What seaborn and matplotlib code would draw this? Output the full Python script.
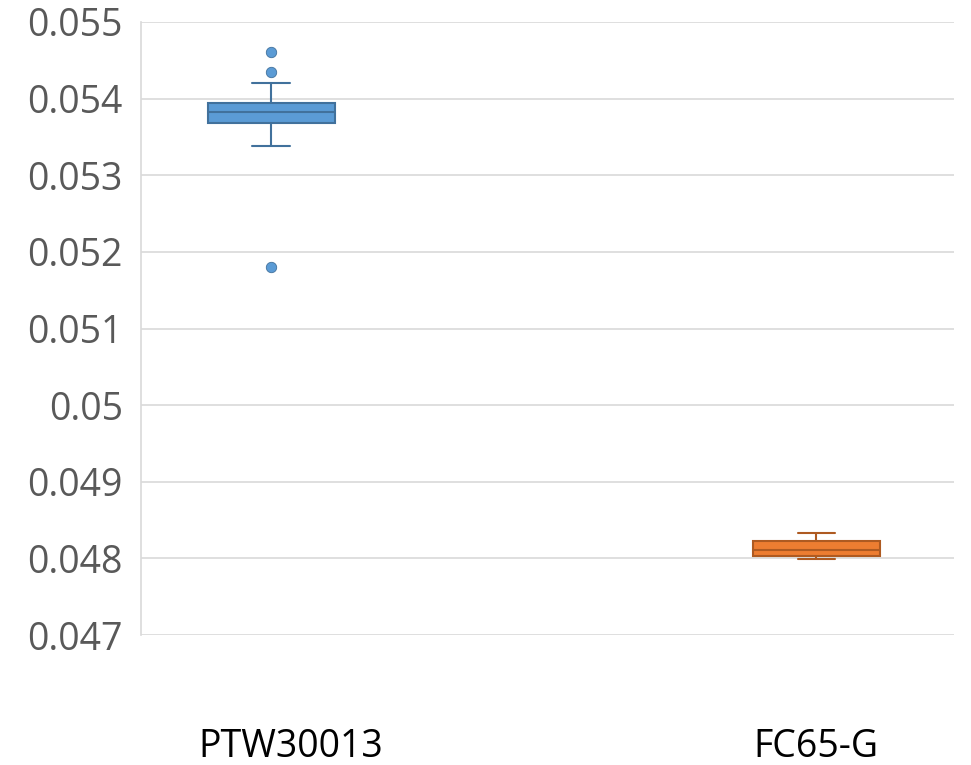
import numpy as np
import pandas as pd
import matplotlib
matplotlib.use("Agg")
import matplotlib.pyplot as plt
from matplotlib.transforms import ScaledTranslation
import seaborn as sns

categories = ["PTW30013", "FC65-G"]
ptw_values = [0.051798, 0.053381, 0.05355, 0.053685, 0.05375, 0.0538, 0.053825,
              0.05386, 0.0539, 0.053946, 0.054208, 0.054347, 0.054612]
fc_values = [0.047994, 0.04801, 0.048029, 0.04807, 0.048107, 0.04817,
             0.048229, 0.04828, 0.048325]
y_ticks = [0.047, 0.048, 0.049, 0.05, 0.051, 0.052, 0.053, 0.054, 0.055]
y_tick_labels = ["0.047", "0.048", "0.049", "0.05", "0.051", "0.052", "0.053", "0.054", "0.055"]

fills = {"PTW30013": "#5B9BD5", "FC65-G": "#ED7D31"}
edges = {"PTW30013": "#41719C", "FC65-G": "#AE5A21"}

df = pd.DataFrame({
    "group": [categories[0]] * len(ptw_values) + [categories[1]] * len(fc_values),
    "value": ptw_values + fc_values,
})

sns.set_theme(style="white")
plt.rcParams["font.family"] = ["Open Sans", "DejaVu Sans"]

fig = plt.figure(figsize=(9.71, 7.65), dpi=100)
ax = fig.add_axes([141 / 971, 1 - 635 / 765, (954 - 141) / 971, (635 - 22) / 765])

for cat in categories:
    sub = df[df["group"] == cat]
    sns.boxplot(data=sub, x="group", y="value", order=categories, ax=ax,
                color=fills[cat], linecolor=edges[cat], width=0.233,
                saturation=1, linewidth=1.5, whis=1.5,
                flierprops=dict(marker="o", markersize=7.5,
                                markerfacecolor=fills[cat],
                                markeredgecolor=edges[cat], markeredgewidth=0.6),
                capwidths=0.068)

ax.set_ylim(0.047, 0.055)
ax.set_xlim(-0.2385, 1.253)
ax.set_yticks(y_ticks)
ax.set_yticklabels(y_tick_labels)
ax.grid(axis="y", color="#D9D9D9", linewidth=1.2)
ax.set_axisbelow(True)
for s in ["top", "right", "bottom"]:
    ax.spines[s].set_visible(False)
ax.spines["left"].set_color("#D9D9D9")
ax.spines["left"].set_linewidth(1.2)
ax.tick_params(axis="y", length=0, pad=13, labelsize=27, labelcolor="#595959")
ax.tick_params(axis="x", length=0, pad=67, labelsize=27, labelcolor="#000000")
ax.set_xlabel("")
ax.set_ylabel("")

lbl = ax.get_xticklabels()[0]
lbl.set_transform(lbl.get_transform() + ScaledTranslation(0.2, 0, fig.dpi_scale_trans))

fig.savefig("out.png", dpi=100)
